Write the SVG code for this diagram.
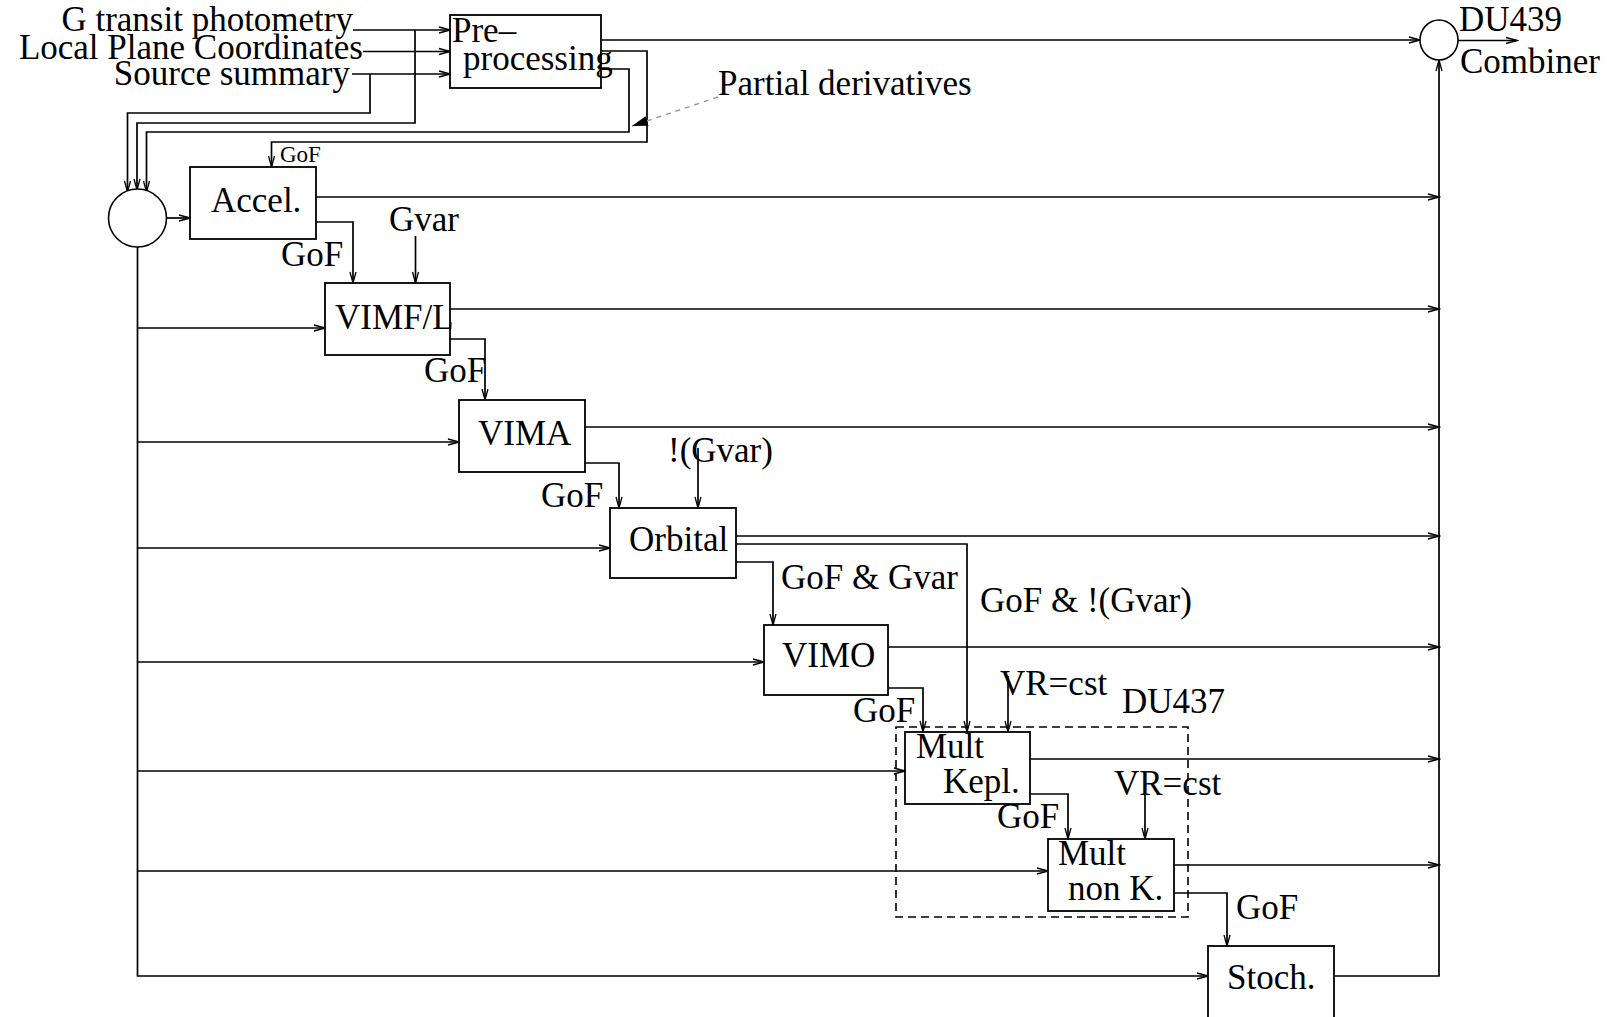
<svg xmlns="http://www.w3.org/2000/svg" width="1616" height="1017" viewBox="0 0 1616 1017">
<defs>
<marker id="arr" markerUnits="userSpaceOnUse" markerWidth="14" markerHeight="10" refX="12" refY="5" orient="auto">
<path d="M1,2 L12,5 L1,8" fill="none" stroke="#000" stroke-width="1.3"/>
</marker>
<marker id="farr" markerUnits="userSpaceOnUse" markerWidth="18" markerHeight="12" refX="16" refY="6" orient="auto">
<path d="M0,1 L16,6 L0,11 Z" fill="#000"/>
</marker>
</defs>
<style>
text{font-family:"Liberation Serif","Times New Roman",serif;font-size:35px;fill:#000}
.sm{font-size:23px}
.box{fill:#fff;stroke:#000;stroke-width:1.8}
.c{fill:none;stroke:#000;stroke-width:1.7}
.a{fill:none;stroke:#000;stroke-width:1.7;marker-end:url(#arr)}
.dash{fill:none;stroke:#000;stroke-width:1.6;stroke-dasharray:8 5}
</style>
<rect width="1616" height="1017" fill="#fff"/>

<g id="connectors">
<path class="a" d="M353,30 H450"/>
<path class="a" d="M363,51.5 H450"/>
<path class="a" d="M352,74 H450"/>
<path class="a" d="M415,30 V123 H137 V190"/>
<path class="a" d="M370,74 V113 H127.5 V192"/>
<path class="a" d="M601,69 H629 V132 H146.5 V192"/>
<path class="a" d="M601,51 H647 V142 H271.5 V167"/>
<path class="a" d="M601,40 H1420"/>
<path class="a" d="M1458,40.5 H1517"/>
<path class="a" d="M1334,976 H1439 V60"/>
<path class="a" d="M166.5,218 H190"/>
<path class="a" d="M137.5,247 V976 H1208"/>
<path class="a" d="M137.5,328 H325"/>
<path class="a" d="M137.5,442 H459"/>
<path class="a" d="M137.5,548 H610"/>
<path class="a" d="M137.5,662 H764"/>
<path class="a" d="M137.5,771 H905"/>
<path class="a" d="M137.5,871 H1048"/>
<path class="a" d="M316,197 H1439"/>
<path class="a" d="M450,309 H1439"/>
<path class="a" d="M585,427 H1439"/>
<path class="a" d="M736,536 H1439"/>
<path class="a" d="M888,647 H1439"/>
<path class="a" d="M1030,759 H1439"/>
<path class="a" d="M1174,865 H1439"/>
<path class="a" d="M316,222 H353 V283"/>
<path class="a" d="M450,339 H485 V400"/>
<path class="a" d="M585,463 H619 V508"/>
<path class="a" d="M736,562 H773 V625"/>
<path class="a" d="M736,544 H967 V732"/>
<path class="a" d="M888,688 H923 V732"/>
<path class="a" d="M1030,794 H1068 V839"/>
<path class="a" d="M1174,893 H1227 V946"/>
<path class="a" d="M415.5,236 V283"/>
<path class="a" d="M698,448 V508"/>
<path class="a" d="M1008,676 V732"/>
<path class="a" d="M1145,773 V839"/>
<path d="M718,97 L632,126" fill="none" stroke="#999" stroke-width="1.4" stroke-dasharray="5 5" marker-end="url(#farr)"/>
</g>

<g id="inputs">
<text x="353" y="31" text-anchor="end">G transit photometry</text>
<text x="363" y="59" text-anchor="end">Local Plane Coordinates</text>
<text x="350" y="85" text-anchor="end">Source summary</text>
<text x="718" y="95">Partial derivatives</text>
<text class="sm" x="280" y="162">GoF</text>
<text x="281" y="266">GoF</text>
<text x="389" y="231">Gvar</text>
<text x="424" y="382">GoF</text>
<text x="668" y="462">!(Gvar)</text>
<text x="541" y="507">GoF</text>
<text x="781" y="589">GoF &amp; Gvar</text>
<text x="980" y="612">GoF &amp; !(Gvar)</text>
<text x="853" y="722">GoF</text>
<text x="1000" y="695">VR=cst</text>
<text x="997" y="828">GoF</text>
<text x="1114" y="795">VR=cst</text>
<text x="1236" y="919">GoF</text>
</g>

<g id="preprocessing">
<rect class="box" x="450" y="15" width="151" height="73"/>
<text x="452" y="42">Pre–</text>
<text x="463" y="70">processing</text>
</g>

<g id="switch">
<circle cx="137.5" cy="218" r="29" fill="#fff" stroke="#000" stroke-width="1.6"/>
</g>

<g id="accel">
<rect class="box" x="190" y="167" width="126" height="72"/>
<text x="211" y="212">Accel.</text>
</g>

<g id="vimfl">
<rect class="box" x="325" y="283" width="125" height="72"/>
<text x="335" y="329">VIMF/L</text>
</g>

<g id="vima">
<rect class="box" x="459" y="400" width="126" height="72"/>
<text x="478" y="445">VIMA</text>
</g>

<g id="orbital">
<rect class="box" x="610" y="508" width="126" height="70"/>
<text x="629" y="551">Orbital</text>
</g>

<g id="vimo">
<rect class="box" x="764" y="625" width="124" height="70"/>
<text x="782" y="667">VIMO</text>
</g>

<g id="du437">
<rect class="dash" x="896" y="727" width="292" height="190"/>
<text x="1122" y="713">DU437</text>
</g>

<g id="multkepl">
<rect class="box" x="905" y="732" width="125" height="72"/>
<text x="916" y="758">Mult</text>
<text x="943" y="793">Kepl.</text>
</g>

<g id="multnonk">
<rect class="box" x="1048" y="839" width="126" height="72"/>
<text x="1058" y="865">Mult</text>
<text x="1068" y="900">non K.</text>
</g>

<g id="stoch">
<rect class="box" x="1208" y="946" width="126" height="74"/>
<text x="1227" y="989">Stoch.</text>
</g>

<g id="combiner">
<ellipse cx="1439" cy="40" rx="19" ry="20" fill="#fff" stroke="#000" stroke-width="1.6"/>
<text x="1459" y="31">DU439</text>
<text x="1460" y="73">Combiner</text>
</g>
</svg>
